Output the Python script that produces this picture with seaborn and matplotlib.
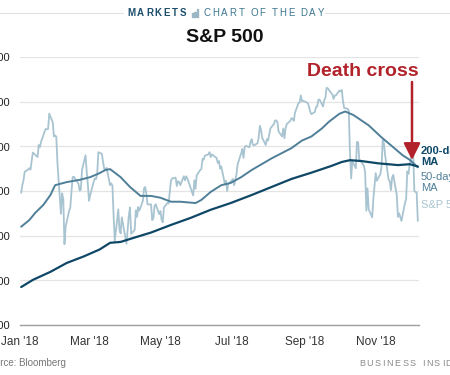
import matplotlib
matplotlib.use("Agg")
import matplotlib.pyplot as plt
import seaborn as sns
import pandas as pd
import numpy as np

# ---------------- data ----------------
sp_days = [
 "01-02","01-03","01-04","01-05","01-08","01-09","01-10","01-11","01-12","01-16","01-17","01-18","01-19",
 "01-22","01-23","01-24","01-25","01-26","01-29","01-30","01-31","02-01","02-02","02-05","02-06","02-07",
 "02-08","02-09","02-12","02-13","02-14","02-15","02-16","02-20","02-21","02-22","02-23","02-26","02-27",
 "02-28","03-01","03-02","03-05","03-06","03-07","03-08","03-09","03-12","03-13","03-14","03-15","03-16",
 "03-19","03-20","03-21","03-22","03-23","03-26","03-27","03-28","03-29","04-02","04-03","04-04","04-05",
 "04-06","04-09","04-10","04-11","04-12","04-13","04-16","04-17","04-18","04-19","04-20","04-23","04-24",
 "04-25","04-26","04-27","04-30","05-01","05-02","05-03","05-04","05-07","05-08","05-09","05-10","05-11",
 "05-14","05-15","05-16","05-17","05-18","05-21","05-22","05-23","05-24","05-25","05-29","05-30","05-31",
 "06-01","06-04","06-05","06-06","06-07","06-08","06-11","06-12","06-13","06-14","06-15","06-18","06-19",
 "06-20","06-21","06-22","06-25","06-26","06-27","06-28","06-29","07-02","07-03","07-05","07-06","07-09",
 "07-10","07-11","07-12","07-13","07-16","07-17","07-18","07-19","07-20","07-23","07-24","07-25","07-26",
 "07-27","07-30","07-31","08-01","08-02","08-03","08-06","08-07","08-08","08-09","08-10","08-13","08-14",
 "08-15","08-16","08-17","08-20","08-21","08-22","08-23","08-24","08-27","08-28","08-29","08-30","08-31",
 "09-04","09-05","09-06","09-07","09-10","09-11","09-12","09-13","09-14","09-17","09-18","09-19","09-20",
 "09-21","09-24","09-25","09-26","09-27","09-28","10-01","10-02","10-03","10-04","10-05","10-08","10-09",
 "10-10","10-11","10-12","10-15","10-16","10-17","10-18","10-19","10-22","10-23","10-24","10-25","10-26",
 "10-29","10-30","10-31","11-01","11-02","11-05","11-06","11-07","11-08","11-09","11-12","11-13","11-14",
 "11-15","11-16","11-19","11-20","11-21","11-23","11-26","11-27","11-28","11-29","11-30","12-03","12-04",
 "12-06","12-07"]
sp_close = [
 2696,2713,2724,2743,2748,2751,2748,2768,2786,2776,2803,2798,2810,
 2833,2839,2838,2839,2873,2854,2822,2824,2822,2762,2649,2695,2682,
 2581,2620,2656,2663,2699,2731,2732,2716,2701,2704,2747,2780,2744,
 2714,2678,2691,2721,2728,2727,2739,2787,2783,2765,2749,2747,2752,
 2713,2717,2712,2644,2588,2659,2613,2605,2641,2582,2614,2645,2663,
 2604,2613,2657,2642,2664,2656,2678,2706,2709,2693,2670,2670,2635,
 2639,2667,2670,2648,2655,2636,2630,2663,2673,2672,2698,2723,2728,
 2730,2711,2722,2720,2713,2733,2724,2733,2728,2721,2690,2724,2705,
 2735,2747,2749,2772,2770,2779,2782,2787,2776,2782,2780,2774,2763,
 2767,2750,2755,2717,2723,2700,2716,2718,2727,2713,2737,2760,2784,
 2794,2774,2798,2801,2798,2810,2816,2804,2802,2807,2820,2846,2837,
 2819,2803,2816,2813,2827,2840,2850,2858,2858,2854,2833,2822,2840,
 2818,2841,2850,2857,2863,2862,2857,2875,2897,2898,2914,2901,2902,
 2897,2889,2878,2872,2877,2888,2889,2904,2905,2889,2904,2908,2931,
 2930,2919,2916,2906,2914,2914,2925,2923,2926,2902,2886,2884,2880,
 2786,2728,2767,2751,2810,2809,2769,2768,2756,2741,2656,2706,2659,
 2641,2683,2712,2740,2723,2738,2755,2814,2807,2781,2726,2722,2702,
 2730,2736,2691,2642,2650,2633,2673,2682,2744,2738,2760,2790,2700,
 2696,2633]

ma50_days = ["01-02","01-09","01-14","01-21","01-27","01-31","02-10","02-21","03-02","03-10","03-15",
             "03-19","03-28","04-05","04-14","04-23","05-01","05-10","05-18","05-31","06-05","06-13",
             "06-22","06-30","07-09","07-18","08-04","08-21","08-30","09-07","09-16","09-22","10-01",
             "10-06","10-13","10-26","11-06","11-16","11-24","11-30","12-07"]
ma50_vals = [2620,2635,2651,2669,2691,2713,2720,2725,2731,2740,2747,
             2749,2731,2709,2689,2689,2685,2676,2676,2673,2680,2698,
             2713,2718,2731,2747,2773,2796,2813,2822,2840,2855,2873,
             2878,2870,2847,2820,2798,2780,2770,2753]

ma200_days = ["01-02","01-12","01-27","02-10","02-24","03-10","03-19","03-28","04-08","04-23","05-10",
              "05-27","06-13","06-30","07-18","08-04","08-21","09-07","09-24","10-03","10-10","10-20",
              "11-03","11-20","11-30","12-07"]
ma200_vals = [2485,2501,2519,2539,2553,2569,2584,2586,2595,2607,2624,
              2640,2658,2673,2691,2709,2727,2741,2756,2765,2769,2767,
              2762,2758,2760,2755]

y_ticks = [2400, 2500, 2600, 2700, 2800, 2900, 3000]
y_labels = ["2,400", "2,500", "2,600", "2,700", "2,800", "2,900", "3,000"]
x_ticks = ["2018-01-01", "2018-03-01", "2018-05-01", "2018-07-01", "2018-09-01", "2018-11-01"]
x_labels = ["Jan '18", "Mar '18", "May '18", "Jul '18", "Sep '18", "Nov '18"]

# ---------------- styling ----------------
C_SP = "#a9c4d1"
C_50 = "#4f7f98"
C_200 = "#0f4767"
C_RED = "#b2222a"

sns.set_theme(style="white")
plt.rcParams["font.family"] = ["Liberation Sans", "DejaVu Sans"]

W, H = 450, 375
fig = plt.figure(figsize=(W / 100, H / 100), dpi=100)
fig.patch.set_facecolor("white")

def fx(x):
    return x / W

def fy(y):
    return 1 - y / H

ax = fig.add_axes([fx(20), fy(325), 399 / W, (325 - 57) / H])

to_dt = lambda days: pd.to_datetime(["2018-" + d for d in days])
df_sp = pd.DataFrame({"date": to_dt(sp_days), "v": sp_close})
df_50 = pd.DataFrame({"date": to_dt(ma50_days), "v": ma50_vals})
df_200 = pd.DataFrame({"date": to_dt(ma200_days), "v": ma200_vals})

sns.lineplot(data=df_sp, x="date", y="v", ax=ax, color=C_SP, lw=1.3, zorder=2)
sns.lineplot(data=df_50, x="date", y="v", ax=ax, color=C_50, lw=1.4, zorder=3)
sns.lineplot(data=df_200, x="date", y="v", ax=ax, color=C_200, lw=1.6, zorder=4)

ax.set_xlim(pd.Timestamp("2018-01-01"), pd.Timestamp("2018-12-08"))
ax.set_ylim(2400, 3000)
ax.set_yticks(y_ticks)
ax.set_yticklabels(y_labels)
ax.set_xticks(pd.to_datetime(x_ticks))
ax.set_xticklabels(x_labels)
ax.set_xlabel("")
ax.set_ylabel("")
ax.grid(axis="y", color="#e4e4e4", lw=0.9)
ax.set_axisbelow(True)
for s in ["top", "right", "left"]:
    ax.spines[s].set_visible(False)
ax.spines["bottom"].set_color("#a0a0a0")
ax.spines["bottom"].set_linewidth(1.0)
ax.tick_params(axis="y", length=0, pad=7, labelsize=8, labelcolor="#222222")
ax.tick_params(axis="x", length=0, pad=8, labelsize=8.5, labelcolor="#333333")

# ---------------- header ----------------
renderer = fig.canvas.get_renderer()

def spaced(x0, y, text, gap, **kw):
    x = x0
    for ch in text:
        t = fig.text(fx(x), fy(y), ch, ha="left", va="center", **kw)
        if ch == " ":
            w = 2.8
        else:
            w = t.get_window_extent(renderer).width
        x += w + gap
    return x

spaced(127, 13, "MARKETS", 1.9, fontsize=7, fontweight="bold", color="#1d4f6c")
# small bar icon
for i, hh in enumerate([3, 5, 7]):
    fig.patches.append(plt.Rectangle((fx(192 + i * 2.3), fy(16.5)), 1.6 / W, hh / H,
                                     transform=fig.transFigure, color="#9bb6c4", zorder=5))
spaced(204, 13, "CHART OF THE DAY", 1.7, fontsize=7, color="#3c7690")
fig.add_artist(plt.Line2D([0, fx(123)], [fy(13), fy(13)], color="#e2e2e2", lw=0.8))
fig.add_artist(plt.Line2D([fx(325), 1], [fy(13), fy(13)], color="#e2e2e2", lw=0.8))

fig.text(fx(225), fy(38), "S&P 500", ha="center", va="center", fontsize=14,
         fontweight="bold", color="#111111")

# ---------------- annotations ----------------
fig.text(fx(307), fy(72), "Death cross", ha="left", va="center", fontsize=14,
         fontweight="bold", color=C_RED)
ax.annotate("", xy=(412, H - 160), xytext=(412, H - 82), xycoords="figure pixels",
            textcoords="figure pixels",
            arrowprops=dict(arrowstyle="-|>,head_width=0.5,head_length=1.0",
                            color=C_RED, lw=1.8, mutation_scale=10, shrinkA=0, shrinkB=0))

fig.text(fx(421), fy(151), "200-day", ha="left", va="center", fontsize=8, fontweight="bold", color=C_200)
fig.text(fx(421), fy(162), "MA", ha="left", va="center", fontsize=8, fontweight="bold", color=C_200)
fig.text(fx(421), fy(177), "50-day", ha="left", va="center", fontsize=8, color=C_50)
fig.text(fx(421), fy(188), "MA", ha="left", va="center", fontsize=8, color=C_50)
fig.text(fx(421), fy(205), "S&P 500", ha="left", va="center", fontsize=8, color=C_SP)

# ---------------- footer ----------------
fig.text(fx(-17), fy(363), "Source: Bloomberg", ha="left", va="center", fontsize=7, color="#777777")
spaced(359, 363, "BUSINESS INSIDER", 1.6, fontsize=6.5, color="#8a8a8a")

fig.savefig("out.png", dpi=100)
